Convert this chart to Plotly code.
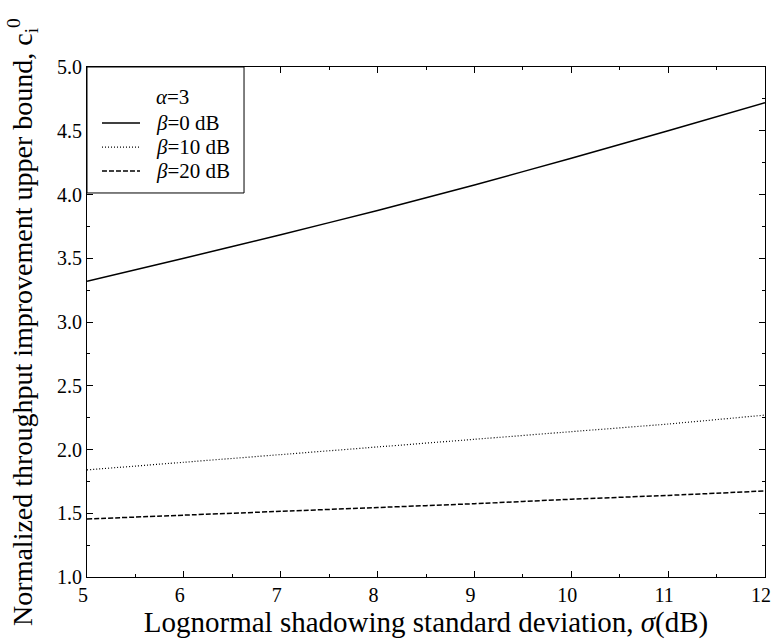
import plotly.graph_objects as go

# Lognormal shadowing standard deviation (dB)
sigma_db = [5, 6, 7, 8, 9, 10, 11, 12]

# Normalized throughput improvement upper bound for alpha = 3
beta_0db = [3.32, 3.50, 3.685, 3.875, 4.075, 4.285, 4.50, 4.72]
beta_10db = [1.84, 1.90, 1.96, 2.02, 2.08, 2.14, 2.20, 2.27]
beta_20db = [1.455, 1.485, 1.515, 1.545, 1.575, 1.61, 1.64, 1.675]

series_names = ["<i>β</i>=0 dB", "<i>β</i>=10 dB", "<i>β</i>=20 dB"]
series_values = [beta_0db, beta_10db, beta_20db]
series_styles = [
    dict(color="black", width=1.5, dash="solid"),
    dict(color="black", width=1.2, dash="1px,2px"),
    dict(color="black", width=1.5, dash="5px,2px"),
]
legend_title = "<i>α</i>=3"

serif = "Liberation Serif, Times New Roman, serif"

fig = go.Figure()
for name, vals, style in zip(series_names, series_values, series_styles):
    fig.add_trace(go.Scatter(x=sigma_db, y=vals, mode="lines", name=name,
                             line=dict(**style, shape="spline", smoothing=0.6),
                             showlegend=False))

# Boxed key in the upper-left corner of the plot area
fig.add_shape(type="rect", xref="x domain", yref="y domain",
              x0=0, x1=0.2316, y0=0.753, y1=1,
              line=dict(color="black", width=1), fillcolor="white", layer="above")
fig.add_annotation(xref="x domain", yref="y domain", x=0.0988, y=0.941,
                   xanchor="left", yanchor="middle", showarrow=False,
                   text=legend_title, font=dict(family=serif, size=21))
row_y = [0.890, 0.843, 0.796]
for name, style, yy in zip(series_names, series_styles, row_y):
    fig.add_shape(type="line", xref="x domain", yref="y domain",
                  x0=0.0221, x1=0.0782, y0=yy, y1=yy,
                  line=dict(color=style["color"], width=style["width"], dash=style["dash"]),
                  layer="above")
    fig.add_annotation(xref="x domain", yref="y domain", x=0.0988, y=yy,
                       xanchor="left", yanchor="middle", showarrow=False,
                       text=name, font=dict(family=serif, size=21))

fig.update_layout(
    width=771, height=641,
    margin=dict(l=87, r=6, t=67, b=64, autoexpand=False),
    paper_bgcolor="white", plot_bgcolor="white",
    font=dict(family=serif, color="black", size=20),
    showlegend=False,
    xaxis=dict(
        range=[5, 12], dtick=1, tick0=5, automargin=False,
        showline=True, linecolor="black", linewidth=1, mirror="ticks",
        ticks="inside", ticklen=6, tickcolor="black",
        minor=dict(dtick=0.5, ticks="inside", ticklen=3, tickcolor="black"),
        showgrid=False, zeroline=False, ticklabeloverflow="allow",
        ticklabelshift=-4,
        tickfont=dict(family=serif, size=20),
        title=dict(text="Lognormal shadowing standard deviation, <i>σ</i>(dB)",
                   font=dict(family=serif, size=29), standoff=3),
    ),
    yaxis=dict(
        range=[1, 5], dtick=0.5, tick0=1, tickformat=".1f", automargin=False,
        showline=True, linecolor="black", linewidth=1, mirror="ticks",
        ticks="inside", ticklen=6, tickcolor="black",
        minor=dict(dtick=0.25, ticks="inside", ticklen=3, tickcolor="black"),
        showgrid=False, zeroline=False,
        tickfont=dict(family=serif, size=20),
        title=dict(text="Normalized throughput improvement upper bound, c<sub>i</sub><sup>0</sup>",
                   font=dict(family=serif, size=28), standoff=16),
    ),
)

fig.write_html("out.html")
